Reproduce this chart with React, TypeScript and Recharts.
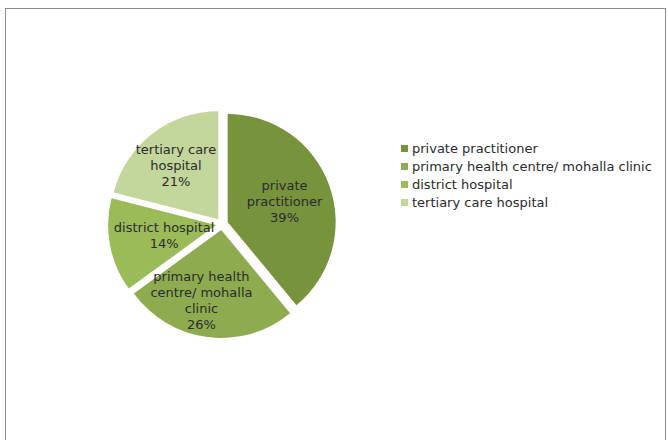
import { Legend, Pie, PieChart, Sector } from 'recharts';

const categories = [
  'private practitioner',
  'primary health centre/ mohalla clinic',
  'district hospital',
  'tertiary care hospital',
];
const shares = [39, 26, 14, 21];
// how the category names wrap inside the slices
const wrappedNames = [
  ['private', 'practitioner'],
  ['primary health', 'centre/ mohalla', 'clinic'],
  ['district hospital'],
  ['tertiary care', 'hospital'],
];
const colors = ['#77933C', '#8EAB4F', '#9BBB59', '#C3D69B'];

const data = categories.map((name, i) => ({ name, value: shares[i], fill: colors[i] }));

const RAD = Math.PI / 180;
const EXPLODE = 6;
// label placement inside each slice (fraction of radius, angle nudge in degrees)
const LABEL_R = [0.56, 0.67, 0.49, 0.64];
const LABEL_TURN = [0, -8, 0, 0];
const FONT = '"DejaVu Sans", Verdana, sans-serif';

function ExplodedSector(props: any) {
  const { cx, cy, midAngle } = props;
  return (
    <Sector
      {...props}
      cx={cx + EXPLODE * Math.cos(-midAngle * RAD)}
      cy={cy + EXPLODE * Math.sin(-midAngle * RAD)}
      stroke="none"
    />
  );
}

function SliceLabel(props: any) {
  const { cx, cy, midAngle, outerRadius, index } = props;
  const r = EXPLODE + outerRadius * LABEL_R[index];
  const a = midAngle + LABEL_TURN[index];
  const x = cx + r * Math.cos(-a * RAD);
  const y = cy + r * Math.sin(-a * RAD);
  const lines = [...wrappedNames[index], `${shares[index]}%`];
  const lh = 16;
  const top = y - ((lines.length - 1) * lh) / 2;
  return (
    <text x={x} y={top} textAnchor="middle" dominantBaseline="central" fill="#2b2b2b" fontSize={13} fontFamily={FONT}>
      {lines.map((l, i) => (
        <tspan key={i} x={x} y={top + i * lh}>
          {l}
        </tspan>
      ))}
    </text>
  );
}

function LegendBox() {
  return (
    <div style={{ fontFamily: FONT, fontSize: 13, color: '#2b2b2b' }}>
      {categories.map((c, i) => (
        <div key={c} style={{ display: 'flex', alignItems: 'center', height: 18 }}>
          <span style={{ width: 7, height: 7, background: colors[i], marginRight: 4, display: 'inline-block' }} />
          <span style={{ whiteSpace: 'nowrap' }}>{c}</span>
        </div>
      ))}
    </div>
  );
}

export default function App() {
  return (
    <div style={{ position: 'fixed', left: 0, top: 0, width: 668, height: 440, overflow: 'hidden', background: '#fff' }}>
      <div
        style={{
          position: 'absolute',
          left: 5,
          top: 8,
          width: 661,
          height: 440,
          border: '1px solid #8c8c8c',
          boxSizing: 'border-box',
        }}
      />
      <div style={{ position: 'absolute', left: 0, top: 0 }}>
        <PieChart width={668} height={440} margin={{ top: 0, right: 0, bottom: 0, left: 0 }}>
          <Pie
            data={data}
            dataKey="value"
            nameKey="name"
            cx={222}
            cy={224}
            outerRadius={108}
            startAngle={90}
            endAngle={-270}
            shape={ExplodedSector}
            label={SliceLabel}
            labelLine={false}
            isAnimationActive={false}
          />
          <Legend
            content={<LegendBox />}
            layout="vertical"
            wrapperStyle={{ position: 'absolute', left: 401, top: 139, width: 262 }}
          />
        </PieChart>
      </div>
    </div>
  );
}
